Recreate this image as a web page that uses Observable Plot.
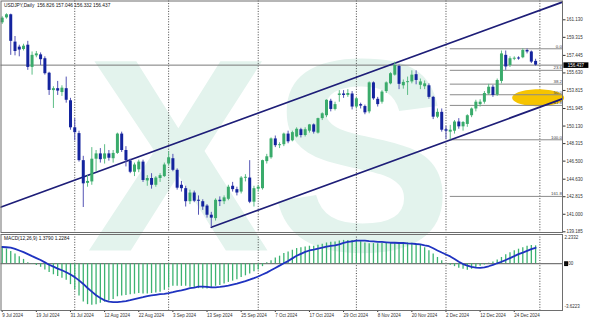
<!DOCTYPE html>
<html><head><meta charset="utf-8">
<script src="https://cdn.jsdelivr.net/npm/d3@7"></script>
<script src="https://cdn.jsdelivr.net/npm/@observablehq/plot@0.6"></script>
<style>
html,body{margin:0;padding:0;background:#fff;}
#chart{width:589px;height:321px;overflow:hidden;background:#fff;position:relative;}
#chart svg{display:block;position:relative;}
#chart svg.wm{position:absolute;left:0;top:0;}
</style></head><body><div id="chart"></div>
<script>
// ---- data ----
const opens  = [160.82,161.33,161.65,158.82,158.30,158.05,158.50,156.20,157.40,157.50,157.10,155.60,153.80,154.00,153.60,154.00,152.75,149.95,149.35,146.55,144.20,144.35,146.70,147.25,146.70,147.25,146.75,147.30,149.30,147.60,146.50,145.35,145.60,146.40,144.45,144.70,144.00,144.70,144.90,146.20,146.75,145.55,144.00,143.65,142.30,143.20,142.45,142.30,141.85,140.90,140.55,142.45,142.30,142.55,143.90,143.55,143.30,144.75,144.75,142.25,143.60,143.65,146.45,146.85,148.80,148.10,148.20,149.30,148.60,149.00,149.75,149.15,149.60,150.25,149.40,150.90,151.20,152.70,151.85,153.30,153.45,153.30,153.45,152.10,152.35,152.15,151.60,154.60,152.90,152.60,153.70,154.50,155.40,156.30,154.30,154.65,154.70,155.45,154.35,154.20,154.30,153.10,151.05,151.55,149.75,149.50,149.60,150.55,150.05,150.30,151.20,151.90,152.35,152.60,153.45,154.15,153.35,154.75,157.45,156.40,157.05,157.15,157.20,157.95,157.80,156.826];
const highs  = [161.45,161.75,161.72,159.40,158.50,158.60,158.90,157.80,157.85,157.70,157.30,155.70,154.20,154.75,154.30,155.20,153.00,150.90,149.60,147.00,145.00,147.90,147.60,147.80,148.20,147.60,147.60,149.40,149.50,148.00,146.70,146.30,146.60,146.60,145.00,145.20,144.90,145.20,146.30,147.45,147.20,145.70,144.40,143.90,143.50,143.40,142.90,142.50,142.00,141.20,142.60,142.80,142.90,144.00,144.30,143.80,144.90,145.10,146.55,143.90,144.00,146.60,147.20,148.90,149.10,148.40,149.40,149.60,149.60,149.95,149.90,149.95,150.30,150.35,150.95,151.50,152.85,152.90,152.60,153.80,153.80,153.90,153.70,153.10,152.50,152.30,154.70,154.70,153.10,153.80,154.70,155.65,156.75,156.45,154.90,155.20,155.85,155.85,155.00,154.80,154.50,153.20,151.90,151.90,150.10,150.20,150.70,150.90,150.60,151.30,152.00,152.80,152.85,153.70,154.45,154.35,155.00,157.90,157.90,157.30,157.30,157.30,158.13,158.10,157.90,157.046];
const lows   = [160.65,161.20,157.45,157.40,157.30,157.90,155.90,155.40,157.20,156.40,155.40,153.30,151.95,153.30,153.20,152.50,149.70,148.60,146.40,141.70,143.80,144.00,145.40,146.30,146.20,146.50,146.30,147.20,147.40,145.90,145.20,144.90,145.30,144.30,143.90,143.60,143.80,144.30,144.80,146.00,145.40,143.50,143.30,141.75,142.00,142.20,140.90,141.40,140.60,139.68,140.30,141.80,142.00,142.40,143.30,142.90,143.10,144.35,142.10,141.75,143.30,143.50,146.20,146.70,147.90,147.80,148.00,148.30,148.50,148.90,148.90,149.00,149.40,149.30,149.30,150.70,151.00,151.60,151.70,152.60,153.00,153.10,151.80,151.90,151.90,151.30,151.40,152.80,152.10,152.40,153.50,154.40,155.30,153.90,153.95,153.30,154.50,154.40,153.90,153.90,152.90,150.80,150.90,149.50,148.75,148.70,149.30,149.80,149.60,150.00,151.00,151.60,152.10,152.40,153.30,153.10,153.20,154.50,155.90,156.20,156.90,156.95,157.10,157.60,156.60,156.332];
const closes = [161.30,161.65,158.90,157.85,158.00,158.40,156.20,157.45,157.60,157.00,155.55,153.82,154.00,153.75,154.05,152.80,149.95,149.45,146.55,144.15,144.40,146.70,147.25,146.65,147.25,146.80,147.30,149.30,147.60,146.55,145.35,146.10,146.40,144.50,144.70,144.00,144.75,145.00,146.10,146.85,145.55,143.70,143.65,142.30,143.20,142.35,142.35,141.75,140.90,140.60,142.45,142.30,142.70,143.80,143.55,143.20,144.75,144.80,142.25,143.65,143.80,146.55,146.95,148.80,148.10,148.20,149.30,148.50,149.45,149.80,149.15,149.75,150.25,149.50,150.90,151.40,152.80,151.85,152.35,153.45,153.30,153.50,152.10,152.95,152.20,151.50,154.60,152.95,152.35,153.65,154.60,155.55,156.40,154.45,154.65,154.70,155.40,154.85,154.70,154.50,153.10,151.05,151.55,149.70,149.60,149.70,150.55,150.05,150.50,151.20,151.90,152.60,152.60,153.50,154.15,153.30,154.85,157.60,156.25,157.10,157.15,157.10,157.95,157.80,156.75,156.437];

const macdMain = [1.29,1.14,0.94,0.74,0.53,0.33,0.08,-0.05,-0.15,-0.28,
 -0.48,-0.69,-0.86,-0.99,-1.12,-1.29,-1.62,-2.01,-2.51,-2.97,
 -3.17,-3.22,-3.17,-3.07,-2.97,-2.89,-2.77,-2.56,-2.51,-2.46,
 -2.41,-2.36,-2.31,-2.34,-2.34,-2.31,-2.26,-2.21,-2.06,-1.88,
 -1.75,-1.75,-1.75,-1.75,-1.83,-1.88,-1.93,-1.95,-1.95,-1.90,
 -1.75,-1.68,-1.57,-1.45,-1.35,-1.24,-1.07,-0.94,-0.79,-0.63,
 -0.48,-0.23,0.08,0.23,0.43,0.58,0.79,0.91,1.04,1.17,
 1.24,1.29,1.35,1.35,1.42,1.50,1.60,1.65,1.68,1.75,
 1.80,1.80,1.80,1.75,1.70,1.60,1.55,1.55,1.55,1.57,
 1.60,1.62,1.62,1.60,1.60,1.60,1.57,1.52,1.45,1.24,
 0.99,0.74,0.48,0.23,-0.03,-0.13,-0.23,-0.36,-0.43,-0.51,
 -0.43,-0.30,-0.20,-0.10,0.03,0.13,0.28,0.48,0.69,0.84,
 0.99,1.12,1.24,1.35,1.40,1.379];
const macdSignal = [1.29,1.27,1.24,1.14,1.02,0.89,0.74,0.58,0.43,0.28,
 0.10,-0.08,-0.23,-0.38,-0.51,-0.66,-0.84,-1.04,-1.29,-1.57,
 -1.88,-2.16,-2.44,-2.66,-2.84,-2.94,-2.97,-2.97,-2.94,-2.89,
 -2.82,-2.74,-2.66,-2.59,-2.51,-2.46,-2.41,-2.36,-2.34,-2.28,
 -2.21,-2.13,-2.06,-1.98,-1.90,-1.85,-1.78,-1.78,-1.80,-1.83,
 -1.83,-1.80,-1.75,-1.70,-1.62,-1.55,-1.45,-1.35,-1.24,-1.12,
 -0.99,-0.84,-0.69,-0.51,-0.33,-0.15,0.03,0.20,0.41,0.61,
 0.76,0.91,1.02,1.09,1.17,1.24,1.32,1.37,1.42,1.50,
 1.60,1.68,1.73,1.78,1.78,1.78,1.75,1.73,1.68,1.68,
 1.65,1.62,1.62,1.60,1.60,1.57,1.55,1.52,1.50,1.42,
 1.35,1.19,1.02,0.86,0.71,0.56,0.36,0.15,-0.03,-0.15,
 -0.25,-0.30,-0.33,-0.28,-0.20,-0.10,0.03,0.15,0.28,0.43,
 0.58,0.74,0.86,0.99,1.12,1.2284];

const dateLabels = ["9 Jul 2024","19 Jul 2024","31 Jul 2024","12 Aug 2024","22 Aug 2024","3 Sep 2024","13 Sep 2024","25 Sep 2024","7 Oct 2024","17 Oct 2024","29 Oct 2024","8 Nov 2024","20 Nov 2024","2 Dec 2024","12 Dec 2024","24 Dec 2024"];
const dateLabelIdx = [0,8,16,24,32,40,48,56,64,72,80,88,96,104,112,120];
const monthLineIdx = [17,39,60,83,104,126];
const priceTicks = [161.130,159.315,157.445,155.630,153.815,151.945,150.130,148.315,146.500,144.630,142.815,141.000,139.185];
const fibPrices = [158.13,155.90,154.47,153.37,152.27,148.71,142.85];
const fibLabels = ["0.0","23.6","38.2","50.0","61.8","100.0","161.8"];
const fibStartIdx = 105;
const channelUpper = [{i:-0.4,p:141.73},{i:131.5,p:163.00}];
const channelLower = [{i:49,p:139.65},{i:131.5,p:152.98}];
const highlightZone = [{i:125.6,p:153.05}];
const lastPrice = 156.437;
const headerText = "USDJPY,Daily\u00a0\u00a0156.826 157.046 156.332 156.437";
const macdHeader = "MACD(12,26,9) 1.3790 1.2284";
const macdMax = 2.2332, macdMin = -3.6223;
const watermarkText = "XS";

// ---- tables ----
const candles = opens.map((o,i)=>({i,o,h:highs[i],l:lows[i],c:closes[i]}));
const macd = macdMain.map((m,i)=>({i,m,s:macdSignal[i]}));
const fib = fibPrices.map((p,k)=>({p,label:fibLabels[k]}));
const isUp = d => d.c >= d.o;
const bodyLo = d => Math.abs(d.c-d.o) < 0.1 ? (d.o+d.c)/2-0.05 : Math.min(d.o,d.c);
const bodyHi = d => Math.abs(d.c-d.o) < 0.1 ? (d.o+d.c)/2+0.05 : Math.max(d.o,d.c);

const FONT = "Liberation Sans, Arial, sans-serif";
const xScale = {domain:[0,125], range:[1.7,535.1], axis:null};
const ellipseSymbol = {draw(ctx){const rx=26,ry=8.5,k=0.5523;
  ctx.moveTo(rx,0);ctx.bezierCurveTo(rx,ry*k,rx*k,ry,0,ry);ctx.bezierCurveTo(-rx*k,ry,-rx,ry*k,-rx,0);
  ctx.bezierCurveTo(-rx,-ry*k,-rx*k,-ry,0,-ry);ctx.bezierCurveTo(rx*k,-ry,rx,-ry*k,rx,0);ctx.closePath();}};
const boxSymbol = {draw(ctx){ctx.rect(-12.5,-2.8,25,5.6);}};
const smallBox = {draw(ctx){ctx.rect(-2,-2.4,4,4.8);}};

// background watermark, one SVG behind both panels
const wm = Plot.plot({
  width:589, height:321, margin:0,
  style:{background:"#fff", fontFamily:FONT},
  marks:[
    Plot.text([watermarkText],{frameAnchor:"top-left",text:d=>d,dx:86,dy:250,fontSize:275,fontWeight:"bold",fill:"#e3f3ed",textAnchor:"start",lineAnchor:"bottom"})
  ]
});
wm.classList.add("wm");

const main = Plot.plot({
  width:589, height:233, marginTop:0.5, marginBottom:1, marginLeft:0.5, marginRight:27,
  x:xScale,
  y:{domain:[139.185,161.13], range:[231.3,19.3], axis:null},
  style:{fontFamily:FONT, background:"transparent", overflow:"hidden"},
  marks:[
    Plot.ruleX(monthLineIdx,{stroke:"#333",strokeDasharray:"1,1.6",strokeWidth:0.9}),
    Plot.dot(highlightZone,{x:"i",y:"p",symbol:ellipseSymbol,r:5,fill:"#f6c400",stroke:null}),
    Plot.ruleY(fib,{y:"p",x1:fibStartIdx,x2:131.5,stroke:"#8a8a8a",strokeWidth:1}),
    Plot.text(fib,{y:"p",x:131.3,text:"label",textAnchor:"end",dx:-0.5,dy:-2.6,fontSize:4.4,fill:"#444"}),
    Plot.ruleY([lastPrice],{stroke:"#7a7a7a",strokeWidth:1}),
    Plot.line(channelUpper,{x:"i",y:"p",stroke:"#1e1e78",strokeWidth:1.7,clip:true}),
    Plot.line(channelLower,{x:"i",y:"p",stroke:"#1e1e78",strokeWidth:1.7,clip:true}),
    Plot.ruleX(candles,{x:"i",y1:"l",y2:"h",stroke:d=>isUp(d)?"#5dbd86":"#5454b4",strokeWidth:1}),
    Plot.ruleX(candles,{x:"i",y1:bodyLo,y2:bodyHi,stroke:d=>isUp(d)?"#3aab6b":"#14249e",strokeWidth:3}),
    Plot.axisY({anchor:"right",ticks:priceTicks,tickFormat:d=>d.toFixed(3),tickSize:2.5,tickPadding:1.5,fontSize:4.5,color:"#333",label:null}),
    Plot.dot([{i:125,p:lastPrice}],{x:"i",y:"p",symbol:boxSymbol,r:3,fill:"#000",stroke:null,dx:40.3}),
    Plot.text([{i:125,p:lastPrice}],{x:"i",y:"p",text:d=>d.p.toFixed(3),fill:"#fff",fontSize:4.5,dx:40.3}),
    Plot.text([headerText],{frameAnchor:"top-left",text:d=>d,dx:3,dy:3,fontSize:4.8,fill:"#111",lineAnchor:"top"}),
    Plot.frame({stroke:"#6e6e6e",strokeWidth:1})
  ]
});

const sub = Plot.plot({
  width:589, height:88, marginTop:1, marginBottom:11, marginLeft:0.5, marginRight:27,
  x:xScale,
  y:{domain:[macdMin,macdMax], range:[77,1.3], axis:null},
  style:{fontFamily:FONT, background:"transparent", overflow:"hidden"},
  marks:[
    Plot.ruleX(monthLineIdx,{stroke:"#333",strokeDasharray:"1,1.6",strokeWidth:0.9}),
    Plot.ruleY([0],{stroke:"#777",strokeWidth:1.1}),
    Plot.ruleX(macd,{x:"i",y1:0,y2:"m",stroke:"#3cb371",strokeWidth:1.3}),
    Plot.line(macd,{x:"i",y:"s",stroke:"#1f33c0",strokeWidth:1.8}),
    Plot.text([macdHeader],{frameAnchor:"top-left",text:d=>d,dx:3,dy:2.5,fontSize:4.8,fill:"#111",lineAnchor:"top"}),
    Plot.text([macdMax],{x:()=>125,y:d=>d,text:d=>d.toFixed(4),dx:29,dy:3,textAnchor:"start",fontSize:4.5,fill:"#333"}),
    Plot.text([macdMin],{x:()=>125,y:d=>d,text:d=>d.toFixed(4),dx:29,dy:-4,textAnchor:"start",fontSize:4.5,fill:"#333"}),
    Plot.dot([0],{x:()=>125,y:d=>d,symbol:smallBox,r:2,fill:"#000",stroke:null,dx:30.5}),
    Plot.text([0],{x:()=>125,y:d=>d,text:d=>d.toFixed(2),dx:28.8,textAnchor:"start",fontSize:4.5,fill:"#333"}),
    Plot.axisX({ticks:dateLabelIdx,tickFormat:i=>dateLabels[dateLabelIdx.indexOf(i)],textAnchor:"start",tickSize:2,tickPadding:1.5,fontSize:4.5,color:"#333",label:null,anchor:"bottom"}),
    Plot.frame({stroke:"#6e6e6e",strokeWidth:1})
  ]
});

const root = document.getElementById("chart");
root.appendChild(wm);
root.appendChild(main);
root.appendChild(sub);
</script>
</body></html>
